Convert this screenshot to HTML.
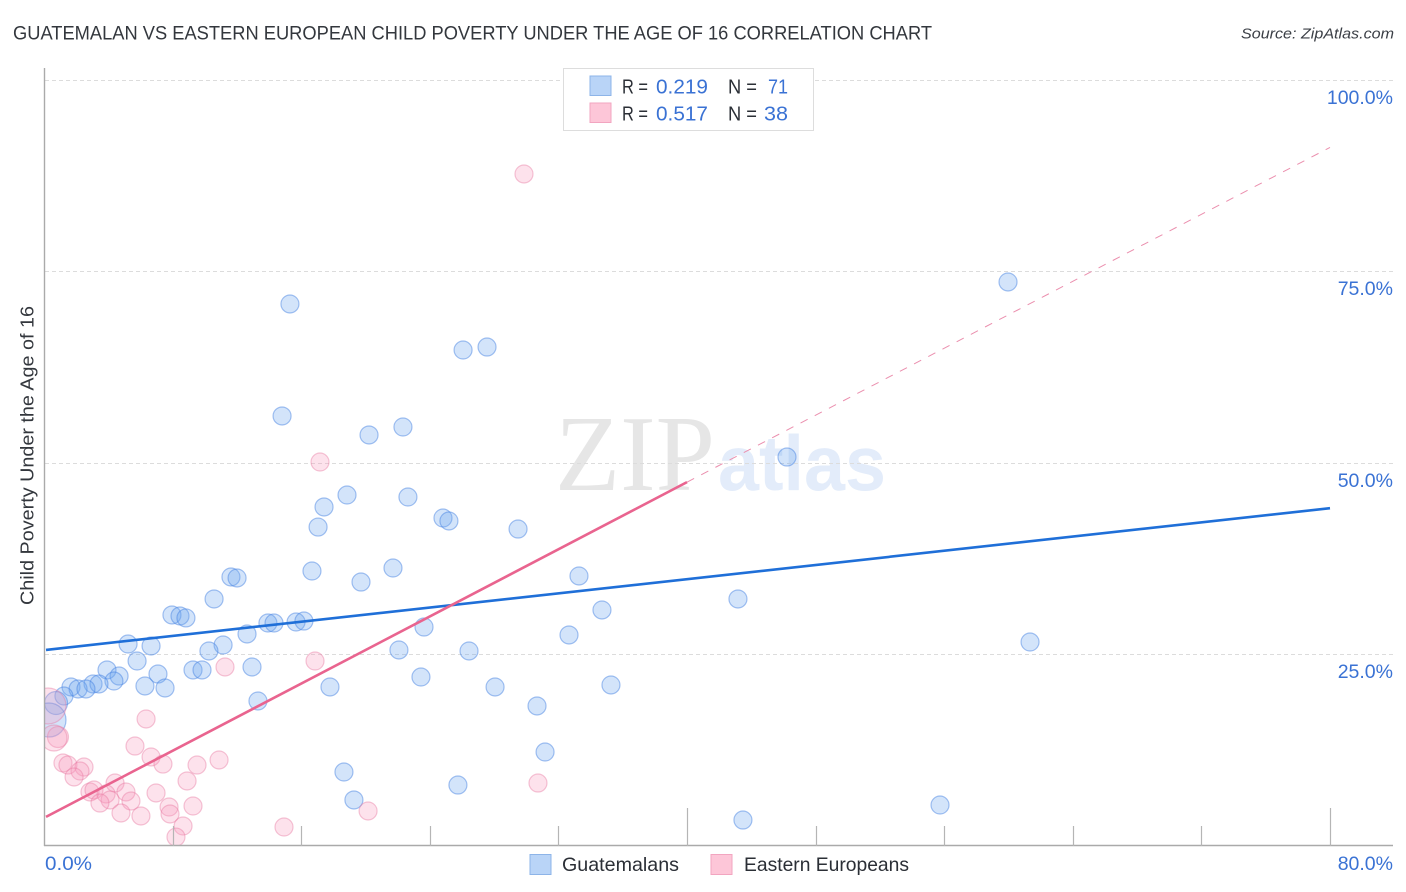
<!DOCTYPE html>
<html lang="en">
<head>
<meta charset="utf-8">
<title>Guatemalan vs Eastern European Child Poverty Under the Age of 16 Correlation Chart</title>
<style>
  html, body { margin: 0; padding: 0; background: #fff; }
  body { width: 1406px; height: 892px; overflow: hidden; }
  svg { display: block; font-family: "Liberation Sans", sans-serif; }
</style>
</head>
<body>
<svg id="chart" xmlns="http://www.w3.org/2000/svg" width="1406" height="892" viewBox="0 0 1406 892">
  <defs>
    <clipPath id="plot-clip"><rect x="45" y="60" width="1350" height="786"></rect></clipPath>
  </defs>
  <rect x="0" y="0" width="1406" height="892" fill="#ffffff"></rect>

  <text x="13" y="39.5" font-size="19.5" fill="#33373d" textLength="919" lengthAdjust="spacingAndGlyphs">GUATEMALAN VS EASTERN EUROPEAN CHILD POVERTY UNDER THE AGE OF 16 CORRELATION CHART</text>
  <text x="1241" y="38.5" font-size="15" font-style="italic" fill="#3b3f46" textLength="153" lengthAdjust="spacingAndGlyphs">Source: ZipAtlas.com</text>

  <g>
    <text x="555" y="490" font-family="'Liberation Serif', serif" font-size="108" fill="#e6e6e6" textLength="160" lengthAdjust="spacingAndGlyphs">ZIP</text>
    <text x="718" y="490" style="font-family: 'Liberation Sans', sans-serif; font-weight: 700;" font-size="78" fill="#e3ecfa" textLength="168" lengthAdjust="spacingAndGlyphs">atlas</text>
  </g>

  <g id="grid-layer"></g>
  <g id="guatemalan-layer" clip-path="url(#plot-clip)"></g>
  <g id="eastern-layer" clip-path="url(#plot-clip)"></g>
  <g id="trend-layer"></g>
  <g id="axis-layer"></g>
  <g id="tick-label-layer"></g>

  <text transform="translate(33.5,605) rotate(-90)" x="0" y="0" font-size="18.5" fill="#33373d" textLength="299" lengthAdjust="spacingAndGlyphs">Child Poverty Under the Age of 16</text>

  <g>
    <rect x="563.5" y="68.5" width="250" height="62" fill="#ffffff" stroke="#dddddd" stroke-width="1"></rect>
    <rect x="590" y="76" width="21" height="19.5" fill="#b9d4f7" stroke="#8db4e8" stroke-width="1"></rect>
    <text x="622" y="93.5" font-size="20" fill="#2b2f36" textLength="26" lengthAdjust="spacingAndGlyphs">R =</text>
    <text x="656" y="93.5" font-size="20.5" fill="#3a72d4" textLength="52" lengthAdjust="spacingAndGlyphs">0.219</text>
    <text x="728" y="93.5" font-size="20" fill="#2b2f36" textLength="29" lengthAdjust="spacingAndGlyphs">N =</text>
    <text x="768" y="93.5" font-size="20.5" fill="#3a72d4" textLength="20" lengthAdjust="spacingAndGlyphs">71</text>
    <rect x="590" y="103" width="21" height="19.5" fill="#fdc6d8" stroke="#f2a5c0" stroke-width="1"></rect>
    <text x="622" y="120.5" font-size="20" fill="#2b2f36" textLength="26" lengthAdjust="spacingAndGlyphs">R =</text>
    <text x="656" y="120.5" font-size="20.5" fill="#3a72d4" textLength="52" lengthAdjust="spacingAndGlyphs">0.517</text>
    <text x="728" y="120.5" font-size="20" fill="#2b2f36" textLength="29" lengthAdjust="spacingAndGlyphs">N =</text>
    <text x="764" y="120.5" font-size="20.5" fill="#3a72d4" textLength="24" lengthAdjust="spacingAndGlyphs">38</text>
  </g>

  <g>
    <rect x="530" y="854.5" width="21" height="20" fill="#b9d4f7" stroke="#8db4e8" stroke-width="1"></rect>
    <text x="562" y="871" font-size="19.5" fill="#2b2f36" textLength="117" lengthAdjust="spacingAndGlyphs">Guatemalans</text>
    <rect x="711" y="854.5" width="21" height="20" fill="#fdc6d8" stroke="#f2a5c0" stroke-width="1"></rect>
    <text x="744" y="871" font-size="19.5" fill="#2b2f36" textLength="165" lengthAdjust="spacingAndGlyphs">Eastern Europeans</text>
  </g>
</svg>

<script>
// Chart data (percent values)
const guatemalanX = [15.30,59.97,27.56,26.07,14.81,22.33,20.22,46.22,18.85,22.64,17.42,24.82,25.19,17.05,29.49,21.71,16.67,11.63,12.01,19.72,33.28,10.58,43.17,34.71,7.96,8.46,8.83,13.93,14.31,15.68,16.17,23.64,12.63,32.66,5.23,6.66,11.14,10.26,22.08,26.44,61.34,5.79,3.92,4.67,4.35,7.09,9.27,9.83,12.94,23.45,35.27,28.06,17.79,6.28,7.53,3.05,3.42,1.68,2.12,2.61,1.24,13.31,30.67,0.75,0.31,31.17,18.66,25.75,19.28,55.74,43.48];
const guatemalanY = [70.76,73.63,65.14,64.75,56.14,54.70,53.66,50.78,45.82,45.56,44.26,42.82,42.43,41.64,41.38,36.29,35.90,35.12,34.99,34.46,35.25,32.25,32.25,30.81,30.16,30.03,29.77,29.11,29.11,29.24,29.37,28.59,27.68,27.55,26.37,26.11,26.24,25.46,25.59,25.46,26.63,24.15,22.98,22.19,21.54,22.45,22.98,22.98,23.37,22.06,21.02,20.76,20.76,20.89,20.63,21.15,21.15,20.76,20.50,20.50,19.58,18.93,18.28,18.67,16.45,12.27,9.66,7.96,6.01,5.35,3.39];
const guatemalanWeights = [1,1,1,1,1,1,1,1,1,1,1,1,1,1,1,1,1,1,1,1,1,1,1,1,1,1,1,1,1,1,1,1,1,1,1,1,1,1,1,1,1,1,1,1,1,1,1,1,1,1,1,1,1,1,1,1,1,1,1,1,1,1,1,1.63,3.57,1,1,1,1,1,1];

const easternX = [29.86,17.17,16.86,11.26,6.35,0.25,0.87,0.62,5.66,6.66,7.40,10.89,9.52,8.90,1.18,1.49,2.49,2.24,1.87,4.42,6.97,5.10,2.86,3.11,3.86,4.11,3.48,5.41,4.79,6.03,7.78,7.84,9.27,8.65,8.21,14.93,20.16,30.73];
const easternY = [87.73,50.13,24.15,23.37,16.58,18.28,14.23,14.10,13.05,11.62,10.70,11.23,10.57,8.49,10.84,10.57,10.31,9.79,9.01,8.22,6.92,7.05,7.05,7.31,6.79,6.01,5.61,5.87,4.31,3.92,5.09,4.18,5.22,2.61,1.17,2.48,4.57,8.22];
const easternWeights = [1,1,1,1,1,4,1.36,2.09,1,1,1,1,1,1,1,1,1,1,1,1,1,1,1,1,1,1,1,1,1,1,1,1,1,1,1,1,1,1];

const trendXs = [0, 80];
const guatemalanTrend = [25.6, 44.1];
const easternSolidXs = [0, 40];
const easternSolid = [3.8, 47.5];
const easternDashedXs = [40, 80];
const easternDashed = [47.5, 91.2];

const yTickValues = [100, 75, 50, 25];
const yTickLabels = ["100.0%", "75.0%", "50.0%", "25.0%"];
const xTickValues = [8, 16, 24, 32, 40, 48, 56, 64, 72, 80];
const xMajorTicks = [40, 80];
const xEndLabels = ["0.0%", "80.0%"];

// Axis functions
const SVG_NS = "http://www.w3.org/2000/svg";
const xScale = v => 44 + v * 16.075;
const yScale = v => 846 - v * 7.66;
const BASE_RADIUS = 9;
const radiusOf = w => BASE_RADIUS * Math.sqrt(w);

function svgEl(tag, attrs, parent) {
  const el = document.createElementNS(SVG_NS, tag);
  for (const k in attrs) el.setAttribute(k, attrs[k]);
  parent.appendChild(el);
  return el;
}

const gridLayer = document.getElementById("grid-layer");
const guatemalanLayer = document.getElementById("guatemalan-layer");
const easternLayer = document.getElementById("eastern-layer");
const trendLayer = document.getElementById("trend-layer");
const axisLayer = document.getElementById("axis-layer");
const tickLabelLayer = document.getElementById("tick-label-layer");

yTickValues.forEach(function (v, i) {
  const y = Math.floor(yScale(v)) + 0.5;
  const line = svgEl("line", { x1: 45, x2: 1393, y1: y, y2: y, stroke: "#dcdcdc", "stroke-width": 1, "stroke-dasharray": "4 3" }, gridLayer);
  
  
  const label = svgEl("text", { x: 1393, y: y + 23.5, "text-anchor": "end", "font-size": 19.5, fill: "#3a72d4" }, tickLabelLayer);
  
  
  label.textContent = yTickLabels[i];
});

guatemalanX.forEach(function (v, i) {
  const c = svgEl("circle", { cx: xScale(v), cy: yScale(guatemalanY[i]), r: radiusOf(guatemalanWeights[i]), fill: "rgba(110,165,240,0.30)", stroke: "rgba(70,130,225,0.48)", "stroke-width": 1.2 }, guatemalanLayer);
  
  
});

easternX.forEach(function (v, i) {
  const c = svgEl("circle", { cx: xScale(v), cy: yScale(easternY[i]), r: radiusOf(easternWeights[i]), fill: "rgba(248,150,185,0.28)", stroke: "rgba(232,120,160,0.42)", "stroke-width": 1.2 }, easternLayer);
  
  
});

const dashedTrend = svgEl("line", { x1: xScale(easternDashedXs[0]), y1: yScale(easternDashed[0]), x2: xScale(easternDashedXs[1]), y2: yScale(easternDashed[1]), stroke: "#eb8fae", "stroke-width": 1, "stroke-dasharray": "8 8" }, trendLayer);



const blueTrend = svgEl("line", { x1: xScale(trendXs[0]) + 2, y1: yScale(guatemalanTrend[0]), x2: xScale(trendXs[1]), y2: yScale(guatemalanTrend[1]), stroke: "#1f6fd8", "stroke-width": 2.6 }, trendLayer);



const pinkTrend = svgEl("line", { x1: xScale(easternSolidXs[0]) + 2, y1: yScale(easternSolid[0]), x2: xScale(easternSolidXs[1]), y2: yScale(easternSolid[1]), stroke: "#e9648f", "stroke-width": 2.6 }, trendLayer);



const yAxisLine = svgEl("line", { x1: 44.5, x2: 44.5, y1: 68, y2: 846, stroke: "#aaaaaa", "stroke-width": 1.4 }, axisLayer);



const xAxisLine = svgEl("line", { x1: 44, x2: 1393, y1: 845.5, y2: 845.5, stroke: "#aaaaaa", "stroke-width": 1.4 }, axisLayer);



xTickValues.forEach(function (v) {
  const x = Math.round(xScale(v)) + 0.5;
  const tick = svgEl("line", { x1: x, x2: x, y1: xMajorTicks.includes(v) ? 808 : 826, y2: 846, stroke: "#b5b5b5", "stroke-width": 1.2 }, axisLayer);
  
  
});

const xLabelStart = svgEl("text", { x: 45, y: 870, "font-size": 19.5, fill: "#3a72d4", textLength: 47, lengthAdjust: "spacingAndGlyphs" }, tickLabelLayer);


xLabelStart.textContent = xEndLabels[0];

const xLabelEnd = svgEl("text", { x: 1393, y: 870, "text-anchor": "end", "font-size": 19.5, fill: "#3a72d4" }, tickLabelLayer);


xLabelEnd.textContent = xEndLabels[1];
</script>
</body>
</html>
